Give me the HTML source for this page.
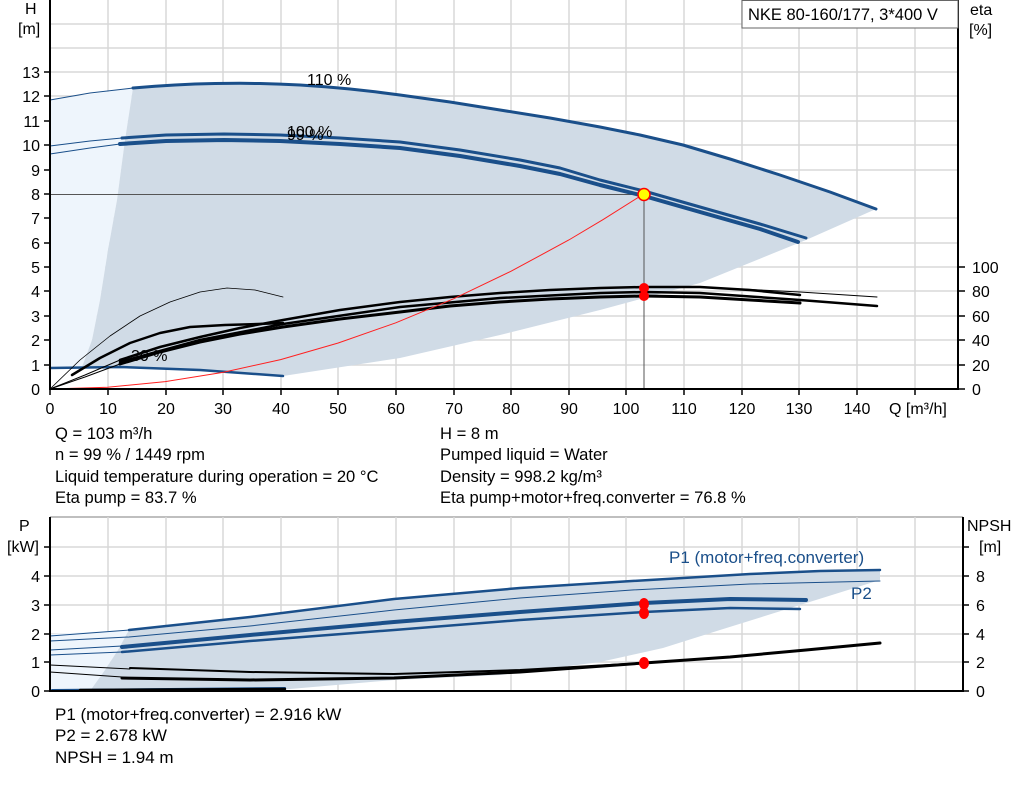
<!DOCTYPE html>
<html><head><meta charset="utf-8"><style>
body{margin:0;background:#fff;width:1024px;height:781px;overflow:hidden;font-family:"Liberation Sans",sans-serif}
svg text{font-family:"Liberation Sans",sans-serif;fill:#000}
</style></head><body>
<svg width="1024" height="781" viewBox="0 0 1024 781" xmlns="http://www.w3.org/2000/svg">
<g stroke="#d8d8d8" stroke-width="1.5">
<line x1="50" y1="24" x2="958" y2="24"/><line x1="50" y1="48" x2="958" y2="48"/>
<line x1="50" y1="72" x2="958" y2="72"/><line x1="50" y1="96" x2="958" y2="96"/><line x1="50" y1="121" x2="958" y2="121"/><line x1="50" y1="145" x2="958" y2="145"/><line x1="50" y1="170" x2="958" y2="170"/><line x1="50" y1="218" x2="958" y2="218"/><line x1="50" y1="243" x2="958" y2="243"/><line x1="50" y1="267" x2="958" y2="267"/><line x1="50" y1="291" x2="958" y2="291"/><line x1="50" y1="316" x2="958" y2="316"/><line x1="50" y1="340" x2="958" y2="340"/><line x1="50" y1="365" x2="958" y2="365"/>
<line x1="108" y1="0" x2="108" y2="389"/><line x1="166" y1="0" x2="166" y2="389"/><line x1="223" y1="0" x2="223" y2="389"/><line x1="281" y1="0" x2="281" y2="389"/><line x1="338" y1="0" x2="338" y2="389"/><line x1="396" y1="0" x2="396" y2="389"/><line x1="454" y1="0" x2="454" y2="389"/><line x1="511" y1="0" x2="511" y2="389"/><line x1="569" y1="0" x2="569" y2="389"/><line x1="626" y1="0" x2="626" y2="389"/><line x1="684" y1="0" x2="684" y2="389"/><line x1="742" y1="0" x2="742" y2="389"/><line x1="799" y1="0" x2="799" y2="389"/><line x1="857" y1="0" x2="857" y2="389"/><line x1="915" y1="0" x2="915" y2="389"/>
</g>
<polygon fill="#eef5fc" points="50,100 133,88 125,140 117,200 108,250 100,300 92,340 82,367 50,368"/>
<polygon fill="#d0dbe6" points="133,88 175,85 215,83.5 260,83.5 300,85 350,89 400,95 450,102 500,110 550,118 600,127 640,135 683,145 730,159 780,175 830,192 876,209 806,240 700,283 600,310 500,335 400,358 283,376 200,370 120,367 82,367 92,340 100,300 108,250 117,200 125,140"/>
<line x1="50" y1="194.5" x2="644" y2="194.5" stroke="#555" stroke-width="1"/>
<line x1="644" y1="194" x2="644" y2="389" stroke="#555" stroke-width="1"/>
<g fill="none" stroke="#1a4f8a" stroke-linecap="round" stroke-linejoin="round">
<polyline stroke-width="1" points="50,100 90,93 133,88"/>
<polyline stroke-width="3" points="133,88 155,86.3 175,85 195,84 215,83.5 240,83.3 260,83.5 280,84.1 300,85 325,86.8 350,89 375,91.8 400,95 450,102 500,110 550,118 600,127 640,135 683,145 730,159 780,175 830,192 876,209"/>
<polyline stroke-width="1" points="50,146 90,141 122,138"/>
<polyline stroke-width="1" points="50,154 90,148 120,144"/>
<polyline stroke-width="3" points="122,138 166,135 224,134 280,135 340,138 400,142 460,150 520,160 560,168 600,180 644,191 700,207 760,224 806,238"/>
<polyline stroke-width="4" points="120,144 166,141 224,140 280,141 340,144 400,148 460,156 520,166 560,174 600,185 644,196 700,212 760,229 798,242"/>
<polyline stroke-width="2.5" points="50,368 120,367 200,370 283,376"/>
</g>
<g fill="none" stroke="#000" stroke-linecap="round" stroke-linejoin="round">
<polyline stroke-width="0.8" points="50,389 80,360 110,336 140,316 170,302 200,292 227,288 255,290 283,297"/>
<polyline stroke-width="2.5" points="72,375 100,358 130,343 160,333 190,327 225,325 258,324 283,323"/>
<polyline stroke-width="1" points="50,389 85,375 120,360"/>
<polyline stroke-width="1" points="50,389 85,377 120,364"/>
<polyline stroke-width="2.5" points="120,360 160,347 200,337 240,328 283,320 340,310 400,302 450,297 500,293 550,290 600,288 644,287 700,287 750,290 800,295"/>
<polyline stroke-width="1" points="700,287 800,292 877,297"/>
<polyline stroke-width="3" points="120,364 160,352 200,342 240,334 283,327 340,319 400,312 450,306 500,302 550,299 600,297 644,296 700,297 750,300 800,303"/>
<polyline stroke-width="2.5" points="120,362 200,340 283,324 400,307 500,298 600,293 644,292 700,293 800,300 877,306"/>
</g>
<polyline fill="none" stroke="#ff2020" stroke-width="1" points="50,389 107.6,387.2 165.3,381.6 222.9,372.4 280.6,359.6 338.2,343 395.8,322.8 453.5,298.8 511.1,271.2 568.8,240 603.3,219.4 643.7,194"/>
<circle cx="644" cy="194.5" r="6" fill="#ffff00" stroke="#ff0000" stroke-width="1.5"/>
<circle cx="644" cy="288" r="5" fill="#ff0000"/><circle cx="644" cy="296" r="5" fill="#ff0000"/>
<g font-size="16"><text x="307" y="85">110 %</text><text x="287" y="137">100 %</text><text x="287" y="140">99 %</text><text x="131" y="361">30 %</text></g>
<g stroke="#000" stroke-width="2"><line x1="50" y1="0" x2="50" y2="390"/><line x1="958" y1="0" x2="958" y2="390"/><line x1="49" y1="389" x2="959" y2="389"/></g>
<g stroke="#000" stroke-width="1.5">
<line x1="44" y1="72" x2="50" y2="72"/><line x1="44" y1="96" x2="50" y2="96"/><line x1="44" y1="121" x2="50" y2="121"/><line x1="44" y1="145" x2="50" y2="145"/><line x1="44" y1="170" x2="50" y2="170"/><line x1="44" y1="194" x2="50" y2="194"/><line x1="44" y1="218" x2="50" y2="218"/><line x1="44" y1="243" x2="50" y2="243"/><line x1="44" y1="267" x2="50" y2="267"/><line x1="44" y1="291" x2="50" y2="291"/><line x1="44" y1="316" x2="50" y2="316"/><line x1="44" y1="340" x2="50" y2="340"/><line x1="44" y1="365" x2="50" y2="365"/>
<line x1="958" y1="267" x2="965" y2="267"/><line x1="958" y1="291" x2="965" y2="291"/><line x1="958" y1="316" x2="965" y2="316"/><line x1="958" y1="340" x2="965" y2="340"/><line x1="958" y1="365" x2="965" y2="365"/><line x1="958" y1="389" x2="965" y2="389"/>
<line x1="50" y1="389" x2="50" y2="395"/><line x1="108" y1="389" x2="108" y2="395"/><line x1="166" y1="389" x2="166" y2="395"/><line x1="223" y1="389" x2="223" y2="395"/><line x1="281" y1="389" x2="281" y2="395"/><line x1="338" y1="389" x2="338" y2="395"/><line x1="396" y1="389" x2="396" y2="395"/><line x1="454" y1="389" x2="454" y2="395"/><line x1="511" y1="389" x2="511" y2="395"/><line x1="569" y1="389" x2="569" y2="395"/><line x1="626" y1="389" x2="626" y2="395"/><line x1="684" y1="389" x2="684" y2="395"/><line x1="742" y1="389" x2="742" y2="395"/><line x1="799" y1="389" x2="799" y2="395"/><line x1="857" y1="389" x2="857" y2="395"/><line x1="915" y1="389" x2="915" y2="395"/>
</g>
<g font-size="16" text-anchor="end">
<text x="40" y="78">13</text><text x="40" y="102">12</text><text x="40" y="127">11</text><text x="40" y="151">10</text><text x="40" y="176">9</text><text x="40" y="200">8</text><text x="40" y="224">7</text><text x="40" y="249">6</text><text x="40" y="273">5</text><text x="40" y="297">4</text><text x="40" y="322">3</text><text x="40" y="346">2</text><text x="40" y="371">1</text><text x="40" y="395">0</text>
</g>
<g font-size="16">
<text x="972" y="273">100</text><text x="972" y="297">80</text><text x="972" y="322">60</text><text x="972" y="346">40</text><text x="972" y="371">20</text><text x="972" y="395">0</text>
<text x="25" y="14">H</text><text x="18" y="34">[m]</text><text x="970" y="15">eta</text><text x="969" y="35">[%]</text>
</g>
<g font-size="16" text-anchor="middle">
<text x="50" y="414">0</text><text x="108" y="414">10</text><text x="166" y="414">20</text><text x="223" y="414">30</text><text x="281" y="414">40</text><text x="338" y="414">50</text><text x="396" y="414">60</text><text x="454" y="414">70</text><text x="511" y="414">80</text><text x="569" y="414">90</text><text x="626" y="414">100</text><text x="684" y="414">110</text><text x="742" y="414">120</text><text x="799" y="414">130</text><text x="857" y="414">140</text>
</g>
<text x="889" y="414" font-size="16">Q [m³/h]</text>
<rect x="742" y="0.5" width="216" height="27.5" fill="#fff" stroke="#666" stroke-width="1"/>
<text x="748" y="20" font-size="16.5">NKE 80-160/177, 3*400 V</text>
<g font-size="16.6">
<text x="55" y="439">Q = 103 m³/h</text><text x="55" y="460">n = 99 % / 1449 rpm</text><text x="55" y="482">Liquid temperature during operation = 20 °C</text><text x="55" y="503">Eta pump = 83.7 %</text>
<text x="440" y="439">H = 8 m</text><text x="440" y="460">Pumped liquid = Water</text><text x="440" y="482">Density = 998.2 kg/m³</text><text x="440" y="503">Eta pump+motor+freq.converter = 76.8 %</text>
</g>
<g stroke="#d8d8d8" stroke-width="1.5">
<line x1="50" y1="517" x2="963" y2="517" stroke="#aaa"/><line x1="50" y1="547" x2="963" y2="547"/><line x1="50" y1="576" x2="963" y2="576"/><line x1="50" y1="605" x2="963" y2="605"/><line x1="50" y1="634" x2="963" y2="634"/><line x1="50" y1="662" x2="963" y2="662"/>
<line x1="108" y1="517" x2="108" y2="691"/><line x1="166" y1="517" x2="166" y2="691"/><line x1="223" y1="517" x2="223" y2="691"/><line x1="281" y1="517" x2="281" y2="691"/><line x1="338" y1="517" x2="338" y2="691"/><line x1="396" y1="517" x2="396" y2="691"/><line x1="454" y1="517" x2="454" y2="691"/><line x1="511" y1="517" x2="511" y2="691"/><line x1="569" y1="517" x2="569" y2="691"/><line x1="626" y1="517" x2="626" y2="691"/><line x1="684" y1="517" x2="684" y2="691"/><line x1="742" y1="517" x2="742" y2="691"/><line x1="799" y1="517" x2="799" y2="691"/><line x1="857" y1="517" x2="857" y2="691"/><line x1="915" y1="517" x2="915" y2="691"/>
</g>
<polygon fill="#eef5fc" points="50,634 129,630 118,650 105,670 90,691 50,691"/>
<polygon fill="#d0dbe6" points="129,630 250,617 394,599 520,588 632,581 750,574 880,570 880,580 800,605 720,630 663,648 600,662 500,675 394,680 290,689 200,691 90,691 105,670 118,650"/>
<g fill="none" stroke="#1a4f8a" stroke-linecap="round" stroke-linejoin="round">
<polyline stroke-width="1" points="50,636 129,630"/>
<polyline stroke-width="2.5" points="129,630 250,617 394,599 520,588 632,581 750,574 820,571 880,570"/>
<polyline stroke-width="1" points="50,641 129,637 250,626 394,610 520,598 632,590 750,584 880,581"/>
<polyline stroke-width="1" points="50,650 122,646"/><polyline stroke-width="1" points="50,655 122,652"/>
<polyline stroke-width="4" points="122,647 250,635 394,622 520,612 644,603 730,599 806,600"/>
<polyline stroke-width="2.5" points="122,652 250,641 394,630 520,620 644,612 730,608 800,609"/>
<polyline stroke-width="2" points="52,690 285,688"/>
</g>
<g fill="none" stroke="#000" stroke-linecap="round" stroke-linejoin="round">
<polyline stroke-width="1" points="50,665 130,669"/><polyline stroke-width="1" points="50,672 122,677"/>
<polyline stroke-width="2" points="130,668 250,672 394,674 520,670 644,663"/>
<polyline stroke-width="3" points="122,678 250,680 394,678 520,672 644,663 730,657 806,650 880,643"/>
<polyline stroke-width="2.5" points="80,690 285,689"/>
</g>
<ellipse cx="644" cy="604" rx="5" ry="6" fill="#ff0000"/><ellipse cx="644" cy="613" rx="5" ry="6" fill="#ff0000"/><ellipse cx="644" cy="663" rx="5" ry="6" fill="#ff0000"/>
<g stroke="#000" stroke-width="2"><line x1="50" y1="517" x2="50" y2="692"/><line x1="963" y1="517" x2="963" y2="692"/><line x1="49" y1="691" x2="964" y2="691"/></g>
<g stroke="#000" stroke-width="1.5">
<line x1="44" y1="547" x2="50" y2="547"/><line x1="44" y1="576" x2="50" y2="576"/><line x1="44" y1="605" x2="50" y2="605"/><line x1="44" y1="634" x2="50" y2="634"/><line x1="44" y1="662" x2="50" y2="662"/><line x1="44" y1="691" x2="50" y2="691"/>
<line x1="963" y1="547" x2="969" y2="547"/><line x1="963" y1="576" x2="969" y2="576"/><line x1="963" y1="605" x2="969" y2="605"/><line x1="963" y1="634" x2="969" y2="634"/><line x1="963" y1="662" x2="969" y2="662"/><line x1="963" y1="691" x2="969" y2="691"/>
</g>
<g font-size="16" text-anchor="end"><text x="40" y="582">4</text><text x="40" y="611">3</text><text x="40" y="640">2</text><text x="40" y="668">1</text><text x="40" y="697">0</text></g>
<g font-size="16"><text x="976" y="582">8</text><text x="976" y="611">6</text><text x="976" y="640">4</text><text x="976" y="668">2</text><text x="976" y="697">0</text>
<text x="19" y="531">P</text><text x="7" y="552">[kW]</text><text x="967" y="531">NPSH</text><text x="979" y="552">[m]</text>
</g>
<g font-size="17">
<text x="669" y="563" style="fill:#1a4f8a">P1 (motor+freq.converter)</text><text x="851" y="599" style="fill:#1a4f8a">P2</text>
<text x="55" y="720">P1 (motor+freq.converter) = 2.916 kW</text><text x="55" y="741">P2 = 2.678 kW</text><text x="55" y="763">NPSH = 1.94 m</text>
</g>
</svg>
</body></html>
